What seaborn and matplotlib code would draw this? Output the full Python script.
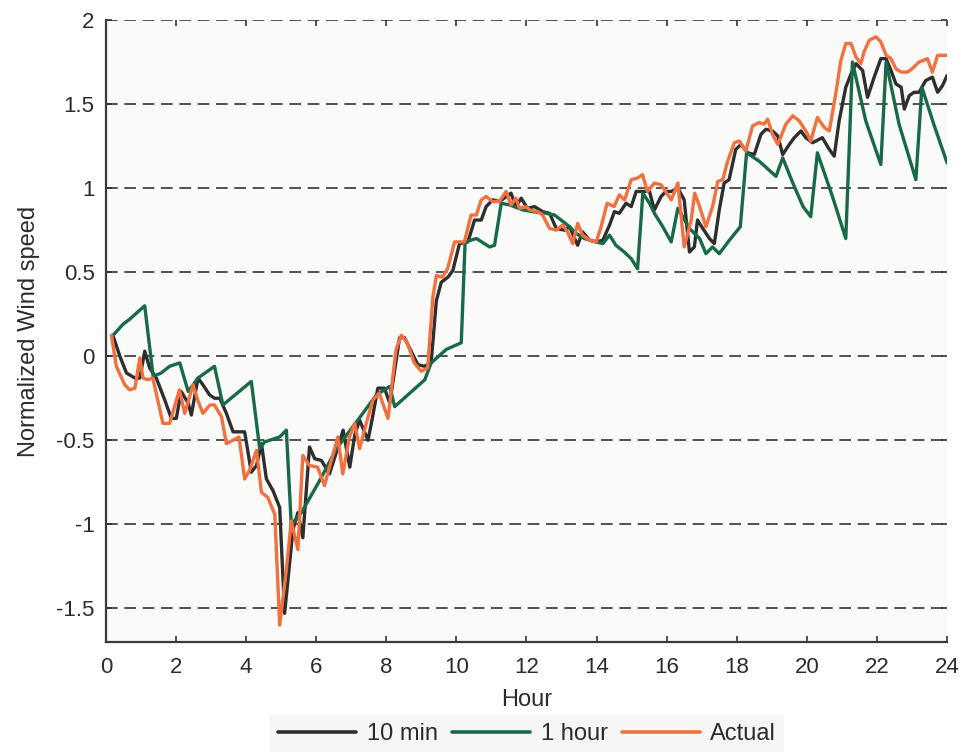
import matplotlib
matplotlib.use("Agg")
import matplotlib.pyplot as plt
import seaborn as sns
import pandas as pd

# Actual normalized wind speed
hours_actual = [0.16, 0.30, 0.54, 0.68, 0.83, 0.97, 1.06, 1.20, 1.34, 1.63, 1.82, 2.10, 2.25, 2.49,
                2.62, 2.77, 2.97, 3.10, 3.30, 3.44, 3.63, 3.80, 3.96, 4.10, 4.30, 4.44, 4.62, 4.82,
                4.96, 5.15, 5.29, 5.48, 5.62, 5.81, 6.04, 6.24, 6.38, 6.62, 6.76, 6.95, 7.10, 7.24,
                7.43, 7.62, 7.80, 8.05, 8.28, 8.43, 8.60, 8.80, 9.00, 9.18, 9.33, 9.43, 9.60, 9.75,
                9.95, 10.23, 10.42, 10.57, 10.71, 10.85, 11.03, 11.23, 11.42, 11.56, 11.70, 11.80,
                12.00, 12.09, 12.32, 12.46, 12.66, 12.85, 13.03, 13.17, 13.32, 13.46, 13.60, 13.80,
                13.99, 14.13, 14.30, 14.50, 14.65, 14.80, 14.99, 15.17, 15.31, 15.45, 15.65, 15.84,
                16.13, 16.32, 16.50, 16.70, 16.80, 16.94, 17.12, 17.31, 17.46, 17.60, 17.74, 17.93,
                18.07, 18.26, 18.45, 18.64, 18.78, 18.88, 19.02, 19.17, 19.40, 19.60, 19.78, 19.97,
                20.11, 20.30, 20.50, 20.64, 20.83, 20.97, 21.11, 21.26, 21.40, 21.54, 21.63, 21.78,
                21.97, 22.11, 22.26, 22.40, 22.54, 22.69, 22.87, 23.00, 23.20, 23.44, 23.58, 23.73,
                24.00]
actual = [0.125, -0.06, -0.17, -0.20, -0.19, -0.01, -0.13, -0.14, -0.13, -0.40, -0.40, -0.20, -0.34,
          -0.17, -0.26, -0.34, -0.29, -0.29, -0.36, -0.52, -0.50, -0.48, -0.73, -0.68, -0.56, -0.81,
          -0.84, -0.94, -1.60, -1.27, -0.98, -1.15, -0.59, -0.65, -0.66, -0.77, -0.66, -0.48, -0.70,
          -0.48, -0.40, -0.55, -0.40, -0.26, -0.22, -0.37, 0.04, 0.125, 0.08, -0.04, -0.09, -0.07,
          0.35, 0.48, 0.47, 0.52, 0.68, 0.68, 0.84, 0.84, 0.93, 0.95, 0.92, 0.92, 0.98, 0.90, 0.94,
          0.88, 0.89, 0.87, 0.86, 0.84, 0.76, 0.75, 0.78, 0.74, 0.67, 0.79, 0.72, 0.69, 0.68, 0.77,
          0.91, 0.89, 0.96, 0.93, 1.05, 1.06, 1.08, 0.98, 1.03, 1.02, 0.93, 1.03, 0.65, 0.81, 0.97,
          0.89, 0.77, 0.89, 1.04, 1.05, 1.16, 1.27, 1.28, 1.22, 1.37, 1.39, 1.38, 1.41, 1.32, 1.26,
          1.38, 1.43, 1.40, 1.34, 1.28, 1.42, 1.36, 1.34, 1.57, 1.76, 1.86, 1.86, 1.78, 1.74, 1.81,
          1.88, 1.90, 1.87, 1.79, 1.77, 1.71, 1.69, 1.69, 1.71, 1.75, 1.77, 1.69, 1.79, 1.79]

# 10-minute-ahead forecast
hours_10min = [0.20, 0.40, 0.59, 0.83, 0.97, 1.11, 1.25, 1.44, 1.68, 1.87, 2.01, 2.15, 2.35, 2.44,
               2.63, 2.77, 2.96, 3.10, 3.25, 3.44, 3.63, 3.82, 3.96, 4.15, 4.30, 4.44, 4.58, 4.77,
               4.96, 5.10, 5.34, 5.48, 5.62, 5.81, 5.96, 6.15, 6.38, 6.58, 6.77, 6.96, 7.10, 7.24,
               7.48, 7.62, 7.76, 7.95, 8.10, 8.38, 8.52, 8.71, 8.90, 9.09, 9.28, 9.43, 9.57, 9.76,
               9.90, 10.09, 10.33, 10.52, 10.71, 10.85, 11.04, 11.23, 11.56, 11.70, 11.85, 12.03,
               12.23, 12.46, 12.66, 12.85, 13.08, 13.23, 13.46, 13.60, 13.80, 13.99, 14.18, 14.37,
               14.51, 14.65, 14.84, 14.99, 15.13, 15.32, 15.51, 15.65, 15.84, 15.98, 16.13, 16.32,
               16.50, 16.65, 16.79, 16.88, 17.03, 17.22, 17.36, 17.50, 17.64, 17.78, 17.97, 18.12,
               18.31, 18.50, 18.69, 18.83, 19.02, 19.17, 19.31, 19.50, 19.64, 19.83, 19.97, 20.16,
               20.44, 20.64, 20.78, 20.92, 21.11, 21.26, 21.40, 21.59, 21.73, 21.92, 22.11, 22.26,
               22.40, 22.54, 22.69, 22.78, 22.92, 23.06, 23.20, 23.39, 23.58, 23.73, 23.87, 24.00]
ten_min = [0.125, 0.0, -0.10, -0.13, -0.13, 0.03, -0.07, -0.13, -0.26, -0.37, -0.37, -0.21, -0.28,
           -0.35, -0.13, -0.17, -0.23, -0.25, -0.25, -0.34, -0.45, -0.45, -0.45, -0.69, -0.65, -0.52,
           -0.73, -0.80, -0.90, -1.53, -1.03, -0.93, -1.08, -0.54, -0.61, -0.62, -0.70, -0.57, -0.44,
           -0.66, -0.47, -0.38, -0.50, -0.35, -0.19, -0.19, -0.28, 0.11, 0.11, 0.03, -0.05, -0.06,
           -0.04, 0.33, 0.44, 0.47, 0.51, 0.67, 0.68, 0.81, 0.81, 0.89, 0.93, 0.92, 0.97, 0.89, 0.94,
           0.88, 0.89, 0.86, 0.85, 0.76, 0.75, 0.77, 0.66, 0.74, 0.69, 0.68, 0.69, 0.78, 0.86, 0.85,
           0.91, 0.89, 0.98, 0.98, 0.98, 0.87, 0.95, 0.98, 0.98, 1.00, 0.93, 0.62, 0.65, 0.81, 0.76,
           0.70, 0.67, 0.87, 1.03, 1.05, 1.23, 1.26, 1.21, 1.20, 1.32, 1.35, 1.34, 1.31, 1.20, 1.26,
           1.30, 1.34, 1.30, 1.27, 1.30, 1.23, 1.19, 1.40, 1.60, 1.68, 1.74, 1.70, 1.54, 1.66, 1.77,
           1.77, 1.70, 1.62, 1.60, 1.47, 1.55, 1.57, 1.57, 1.64, 1.66, 1.57, 1.61, 1.67]

# 1-hour-ahead forecast
hours_1h = [0.21, 0.49, 0.68, 1.11, 1.35, 1.58, 1.82, 2.11, 2.35, 2.63, 3.10, 3.34, 3.63, 4.15,
            4.39, 4.53, 4.96, 5.15, 5.29, 5.58, 6.10, 6.58, 7.19, 7.72, 8.10, 8.24, 8.67, 9.10,
            9.28, 9.71, 10.14, 10.25, 10.57, 10.95, 11.09, 11.28, 11.52, 11.90, 12.18, 12.56,
            12.80, 12.99, 13.23, 13.42, 13.65, 13.99, 14.18, 14.37, 14.55, 14.79, 14.99, 15.17,
            15.32, 15.51, 15.65, 15.89, 16.13, 16.32, 16.65, 16.94, 17.12, 17.31, 17.50, 17.79,
            18.10, 18.28, 18.64, 19.12, 19.31, 19.60, 19.89, 20.11, 20.30, 20.73, 21.11, 21.30,
            21.68, 22.11, 22.26, 22.63, 23.11, 23.28, 23.62, 24.00]
one_hour = [0.125, 0.19, 0.22, 0.30, -0.12, -0.10, -0.06, -0.04, -0.21, -0.13, -0.06, -0.29, -0.24,
            -0.15, -0.55, -0.51, -0.48, -0.44, -1.00, -0.93, -0.74, -0.55, -0.38, -0.23, -0.18,
            -0.30, -0.22, -0.14, -0.04, 0.04, 0.08, 0.68, 0.70, 0.65, 0.66, 0.91, 0.90, 0.87, 0.86,
            0.85, 0.84, 0.81, 0.77, 0.73, 0.70, 0.68, 0.67, 0.72, 0.66, 0.62, 0.58, 0.52, 0.97, 0.91,
            0.85, 0.77, 0.68, 0.88, 0.76, 0.70, 0.61, 0.65, 0.61, 0.69, 0.77, 1.21, 1.16, 1.07, 1.18,
            1.03, 0.89, 0.83, 1.21, 0.95, 0.70, 1.75, 1.40, 1.14, 1.75, 1.38, 1.05, 1.60, 1.38, 1.15]

series_names = ["10 min", "1 hour", "Actual"]
series_colors = ["#2e2e2e", "#17694a", "#f2703f"]

x_ticks = list(range(0, 25, 2))
y_ticks = [-1.5, -1, -0.5, 0, 0.5, 1, 1.5, 2]
y_tick_labels = ["-1.5", "-1", "-0.5", "0", "0.5", "1", "1.5", "2"]

frames = [
    pd.DataFrame({"Hour": hours_10min, "value": ten_min, "series": "10 min"}),
    pd.DataFrame({"Hour": hours_1h, "value": one_hour, "series": "1 hour"}),
    pd.DataFrame({"Hour": hours_actual, "value": actual, "series": "Actual"}),
]
df = pd.concat(frames, ignore_index=True)

sns.set_theme(style="ticks")
plt.rcParams["font.family"] = ["Liberation Sans", "DejaVu Sans"]
plt.rcParams["axes.unicode_minus"] = False

fig = plt.figure(figsize=(9.62, 7.52), dpi=100, facecolor="white")
ax = fig.add_axes([0.110, 0.1463, 0.8745, 0.8271])
ax.set_facecolor("#fafaf8")

sns.lineplot(data=df, x="Hour", y="value", hue="series", hue_order=series_names,
             palette=dict(zip(series_names, series_colors)), estimator=None, sort=False,
             linewidth=2.4, ax=ax)

ax.set_xlim(0, 24)
ax.set_ylim(-1.7, 2.0)
ax.set_xticks(x_ticks)
ax.set_xticklabels([str(t) for t in x_ticks])
ax.set_yticks(y_ticks)
ax.set_yticklabels(y_tick_labels)

ax.set_axisbelow(True)
ax.yaxis.grid(True, linestyle=(0, (7, 4)), color="#333333", linewidth=1.2)
ax.xaxis.grid(False)

for side in ("top", "right"):
    ax.spines[side].set_visible(False)
for side in ("left", "bottom"):
    ax.spines[side].set_color("#3a3a3a")
    ax.spines[side].set_linewidth(1.6)

ax.tick_params(axis="both", direction="in", length=4, width=1.2, color="#333333",
               labelsize=16, labelcolor="#2b2b2b", top=True, right=True)
ax.tick_params(axis="x", pad=11)
ax.tick_params(axis="y", pad=8)

ax.set_xlabel("Hour", fontsize=17, color="#2b2b2b", labelpad=8)
ax.set_ylabel("Normalized Wind speed", fontsize=17, color="#2b2b2b", labelpad=12)

handles, labels = ax.get_legend_handles_labels()
ax.get_legend().remove()
leg = fig.legend(handles, labels, loc="center", bbox_to_anchor=(0.548, 0.024), ncol=3,
                 fontsize=17, frameon=True, fancybox=False, handlelength=3.3,
                 handletextpad=0.45, columnspacing=0.6, borderpad=0.35)
leg.get_frame().set_facecolor("#f4f4f2")
leg.get_frame().set_edgecolor("none")
for text in leg.get_texts():
    text.set_color("#2b2b2b")
for line in leg.get_lines():
    line.set_linewidth(2.6)

fig.savefig("out.png", dpi=100, facecolor="white")
